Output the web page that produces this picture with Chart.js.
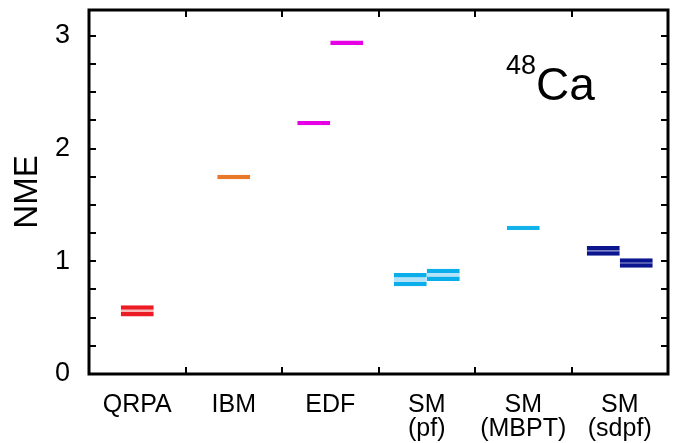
<!DOCTYPE html>
<html><head><meta charset="utf-8">
<script src="https://cdn.jsdelivr.net/npm/chart.js@4.4.1/dist/chart.umd.min.js"></script>
<style>html,body{margin:0;padding:0;background:#fff}#wrap{width:680px;height:443px}</style>
</head><body><div id="wrap"><canvas id="c" width="680" height="443"></canvas></div>
<script>
// Category labels (multi-line)
const categories = [['QRPA'], ['IBM'], ['EDF'], ['SM', '(pf)'], ['SM', '(MBPT)'], ['SM', '(sdpf)']];
// Centered single marker per category: [low, high] range of NME
const singleLow  = [0.510, 1.729, null, null, 1.278, null];
const singleHigh = [0.610, 1.767, null, null, 1.316, null];
// Left marker of a pair
const leftLow  = [null, null, 2.208, 0.778, null, 1.050];
const leftHigh = [null, null, 2.246, 0.896, null, 1.136];
// Right marker of a pair
const rightLow  = [null, null, 2.920, 0.825, null, 0.943];
const rightHigh = [null, null, 2.960, 0.934, null, 1.027];
// Y axis labelled ticks and minor tick step
const yTicks = [0, 1, 2, 3];
const yMinorStep = 0.25;
const nucleus = {mass: '48', symbol: 'Ca'};

const FONT = '"Liberation Sans", Arial, Helvetica, sans-serif';
const lineColors = ['#ec1c24', '#e8792a', '#e600e6', '#0aaeea', '#14b2ea', '#0b168e'];
const fillColors = ['#f8b8b8', '#e8792a', '#e600e6', '#b4e2f8', '#14b2ea', '#7880cc'];

function makeDataset(lo, hi) {
  return {
    data: lo.map((l, i) => (l == null ? null : [l, hi[i]])),
    backgroundColor: fillColors,
    borderColor: lineColors,
    borderWidth: {top: 4.5, bottom: 4.5, left: 0, right: 0},
    borderSkipped: false,
    barThickness: 33,
    skipNull: true,
    inflateAmount: 0
  };
}

const framePlugin = {
  id: 'frame',
  afterDraw(chart) {
    const {ctx, chartArea: a, scales: {x, y}} = chart;
    ctx.save();
    ctx.strokeStyle = '#000';
    ctx.lineWidth = 3;
    ctx.strokeRect(a.left, a.top, a.right - a.left, a.bottom - a.top);
    ctx.lineWidth = 2;
    ctx.beginPath();
    for (let k = 1; k * yMinorStep <= yTicks[yTicks.length - 1] + 1e-9; k++) {
      const py = Math.round(y.getPixelForValue(k * yMinorStep));
      ctx.moveTo(a.left, py); ctx.lineTo(a.left + 7, py);
      ctx.moveTo(a.right, py); ctx.lineTo(a.right - 7, py);
    }
    for (let i = 0; i < categories.length - 1; i++) {
      const px = Math.round((x.getPixelForValue(i) + x.getPixelForValue(i + 1)) / 2);
      ctx.moveTo(px, a.bottom); ctx.lineTo(px, a.bottom - 7);
      ctx.moveTo(px, a.top); ctx.lineTo(px, a.top + 7);
    }
    ctx.stroke();
    ctx.fillStyle = '#000';
    ctx.textBaseline = 'alphabetic';
    ctx.textAlign = 'left';
    ctx.font = '46px ' + FONT;
    ctx.fillText(nucleus.symbol, 536, 100);
    ctx.textAlign = 'right';
    ctx.font = '27px ' + FONT;
    ctx.fillText(nucleus.mass, 536, 74);
    ctx.restore();
  }
};

new Chart(document.getElementById('c'), {
  type: 'bar',
  data: {
    labels: categories,
    datasets: [makeDataset(leftLow, leftHigh), makeDataset(rightLow, rightHigh), makeDataset(singleLow, singleHigh)]
  },
  options: {
    responsive: false,
    devicePixelRatio: 1,
    animation: false,
    layout: {padding: {top: 10, right: 12, bottom: 0, left: 0}},
    plugins: {legend: {display: false}, tooltip: {enabled: false}},
    scales: {
      x: {
        type: 'category',
        offset: true,
        grid: {display: false, drawTicks: false},
        border: {display: false},
        ticks: {color: '#000', font: {family: FONT, size: 25, lineHeight: '24px'}, padding: 19, maxRotation: 0, autoSkip: false},
        afterFit(s) { s.height = 69; s.paddingLeft = 0; s.paddingRight = 0; }
      },
      y: {
        min: 0,
        max: 3.23,
        grid: {display: false, drawTicks: false},
        border: {display: false},
        ticks: {color: '#000', font: {family: FONT, size: 27}, padding: 19},
        afterBuildTicks(s) { s.ticks = yTicks.map(v => ({value: v})); },
        afterFit(s) { s.width = 89; s.paddingTop = 0; s.paddingBottom = 0; },
        title: {display: true, text: 'NME', color: '#000', font: {family: FONT, size: 33}, padding: {top: 8, bottom: 0}}
      }
    }
  },
  plugins: [framePlugin]
});
</script></body></html>
